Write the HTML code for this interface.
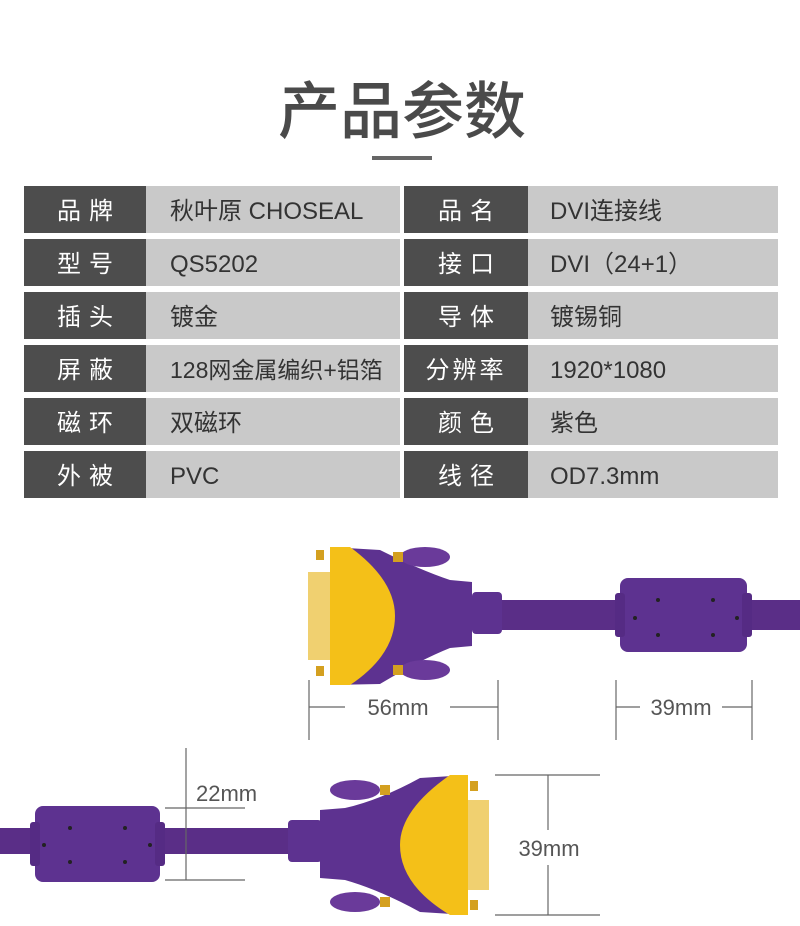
<!DOCTYPE html>
<html><head><meta charset="utf-8"><style>
html,body{margin:0;padding:0;background:#fff;}
svg{display:block;}
text{font-family:"Liberation Sans","Noto Sans CJK SC",sans-serif;}
</style></head><body>
<svg width="800" height="926" viewBox="0 0 800 926" xmlns="http://www.w3.org/2000/svg">
<text x="402" y="133" font-size="62" font-weight="500" fill="#4a4a4a" text-anchor="middle" style="font-family:'Noto Sans CJK SC',sans-serif">产品参数</text>
<rect x="372" y="156" width="60" height="4" fill="#666"/>
<g>
<rect x="24" y="186" width="122" height="47" fill="#4d4d4d"/><rect x="146" y="186" width="254" height="47" fill="#c9c9c9"/>
<rect x="404" y="186" width="124" height="47" fill="#4d4d4d"/><rect x="528" y="186" width="250" height="47" fill="#c9c9c9"/>
<rect x="24" y="239" width="122" height="47" fill="#4d4d4d"/><rect x="146" y="239" width="254" height="47" fill="#c9c9c9"/>
<rect x="404" y="239" width="124" height="47" fill="#4d4d4d"/><rect x="528" y="239" width="250" height="47" fill="#c9c9c9"/>
<rect x="24" y="292" width="122" height="47" fill="#4d4d4d"/><rect x="146" y="292" width="254" height="47" fill="#c9c9c9"/>
<rect x="404" y="292" width="124" height="47" fill="#4d4d4d"/><rect x="528" y="292" width="250" height="47" fill="#c9c9c9"/>
<rect x="24" y="345" width="122" height="47" fill="#4d4d4d"/><rect x="146" y="345" width="254" height="47" fill="#c9c9c9"/>
<rect x="404" y="345" width="124" height="47" fill="#4d4d4d"/><rect x="528" y="345" width="250" height="47" fill="#c9c9c9"/>
<rect x="24" y="398" width="122" height="47" fill="#4d4d4d"/><rect x="146" y="398" width="254" height="47" fill="#c9c9c9"/>
<rect x="404" y="398" width="124" height="47" fill="#4d4d4d"/><rect x="528" y="398" width="250" height="47" fill="#c9c9c9"/>
<rect x="24" y="451" width="122" height="47" fill="#4d4d4d"/><rect x="146" y="451" width="254" height="47" fill="#c9c9c9"/>
<rect x="404" y="451" width="124" height="47" fill="#4d4d4d"/><rect x="528" y="451" width="250" height="47" fill="#c9c9c9"/>
</g>
<g font-size="24" fill="#fff" text-anchor="middle" letter-spacing="8">
<text x="89" y="219">品牌</text><text x="470" y="219">品名</text>
<text x="89" y="272">型号</text><text x="470" y="272">接口</text>
<text x="89" y="325">插头</text><text x="470" y="325">导体</text>
<text x="89" y="378">屏蔽</text><text x="466" y="378" letter-spacing="3">分辨率</text>
<text x="89" y="431">磁环</text><text x="470" y="431">颜色</text>
<text x="89" y="484">外被</text><text x="470" y="484">线径</text>
</g>
<g font-size="24" fill="#333">
<text x="170" y="219">秋叶原 CHOSEAL</text><text x="550" y="219">DVI连接线</text>
<text x="170" y="272">QS5202</text><text x="550" y="272">DVI（24+1）</text>
<text x="170" y="325">镀金</text><text x="550" y="325">镀锡铜</text>
<text x="170" y="378" font-size="23">128网金属编织+铝箔</text><text x="550" y="378">1920*1080</text>
<text x="170" y="431">双磁环</text><text x="550" y="431">紫色</text>
<text x="170" y="484">PVC</text><text x="550" y="484">OD7.3mm</text>
</g>
<!-- top connector -->
<rect x="500" y="600" width="300" height="30" fill="#5a2e87"/>
<rect x="472" y="592" width="30" height="42" rx="4" fill="#5d3290"/>
<rect x="620" y="578" width="127" height="74" rx="8" fill="#5d3290"/>
<rect x="615" y="593" width="10" height="44" rx="3" fill="#552b84"/>
<rect x="742" y="593" width="10" height="44" rx="3" fill="#552b84"/>
<g fill="#222"><circle cx="658" cy="600" r="2"/><circle cx="713" cy="600" r="2"/><circle cx="658" cy="635" r="2"/><circle cx="713" cy="635" r="2"/><circle cx="635" cy="618" r="2"/><circle cx="737" cy="618" r="2"/></g>
<rect x="308" y="572" width="24" height="88" fill="#f0d070"/>
<rect x="316" y="550" width="8" height="10" fill="#d4a020"/><rect x="316" y="666" width="8" height="10" fill="#d4a020"/>
<path d="M330 547 L380 550 Q420 570 450 580 L472 582 L472 646 L450 648 Q420 660 380 684 L330 685 Z" fill="#5d3290"/>
<path d="M330 547 L350 547 Q395 580 395 616 Q395 655 350 685 L330 685 Z" fill="#f4c018"/>
<ellipse cx="425" cy="557" rx="25" ry="10" fill="#6a3a9a"/><rect x="393" y="552" width="10" height="10" fill="#d4a020"/>
<ellipse cx="425" cy="670" rx="25" ry="10" fill="#6a3a9a"/><rect x="393" y="665" width="10" height="10" fill="#d4a020"/>
<g stroke="#666" stroke-width="1.2">
<line x1="309" y1="680" x2="309" y2="740"/><line x1="498" y1="680" x2="498" y2="740"/>
<line x1="309" y1="707" x2="345" y2="707"/><line x1="450" y1="707" x2="498" y2="707"/>
<line x1="616" y1="680" x2="616" y2="740"/><line x1="752" y1="680" x2="752" y2="740"/>
<line x1="616" y1="707" x2="640" y2="707"/><line x1="722" y1="707" x2="752" y2="707"/>
</g>
<text x="398" y="715" font-size="22" fill="#555" text-anchor="middle">56mm</text>
<text x="681" y="715" font-size="22" fill="#555" text-anchor="middle">39mm</text>
<!-- bottom connector -->
<rect x="0" y="828" width="300" height="26" fill="#5a2e87"/>
<rect x="288" y="820" width="34" height="42" rx="4" fill="#5d3290"/>
<rect x="35" y="806" width="125" height="76" rx="8" fill="#5d3290"/>
<rect x="30" y="822" width="10" height="44" rx="3" fill="#552b84"/>
<rect x="155" y="822" width="10" height="44" rx="3" fill="#552b84"/>
<g fill="#222"><circle cx="70" cy="828" r="2"/><circle cx="125" cy="828" r="2"/><circle cx="70" cy="862" r="2"/><circle cx="125" cy="862" r="2"/><circle cx="44" cy="845" r="2"/><circle cx="150" cy="845" r="2"/></g>
<rect x="465" y="800" width="24" height="90" fill="#f0d070"/>
<rect x="470" y="781" width="8" height="10" fill="#d4a020"/><rect x="470" y="900" width="8" height="10" fill="#d4a020"/>
<path d="M468 775 L420 778 Q380 800 345 808 L320 810 L320 878 L345 880 Q380 890 420 912 L468 915 Z" fill="#5d3290"/>
<path d="M468 775 L450 775 Q400 810 400 845 Q400 885 450 915 L468 915 Z" fill="#f4c018"/>
<ellipse cx="355" cy="790" rx="25" ry="10" fill="#6a3a9a"/><rect x="380" y="785" width="10" height="10" fill="#d4a020"/>
<ellipse cx="355" cy="902" rx="25" ry="10" fill="#6a3a9a"/><rect x="380" y="897" width="10" height="10" fill="#d4a020"/>
<g stroke="#666" stroke-width="1.2">
<line x1="186" y1="748" x2="186" y2="880"/>
<line x1="165" y1="808" x2="245" y2="808"/><line x1="165" y1="880" x2="245" y2="880"/>
<line x1="548" y1="775" x2="548" y2="830"/><line x1="548" y1="865" x2="548" y2="915"/>
<line x1="495" y1="775" x2="600" y2="775"/><line x1="495" y1="915" x2="600" y2="915"/>
</g>
<text x="196" y="801" font-size="22" fill="#555">22mm</text>
<text x="549" y="856" font-size="22" fill="#555" text-anchor="middle">39mm</text>
</svg>
</body></html>
